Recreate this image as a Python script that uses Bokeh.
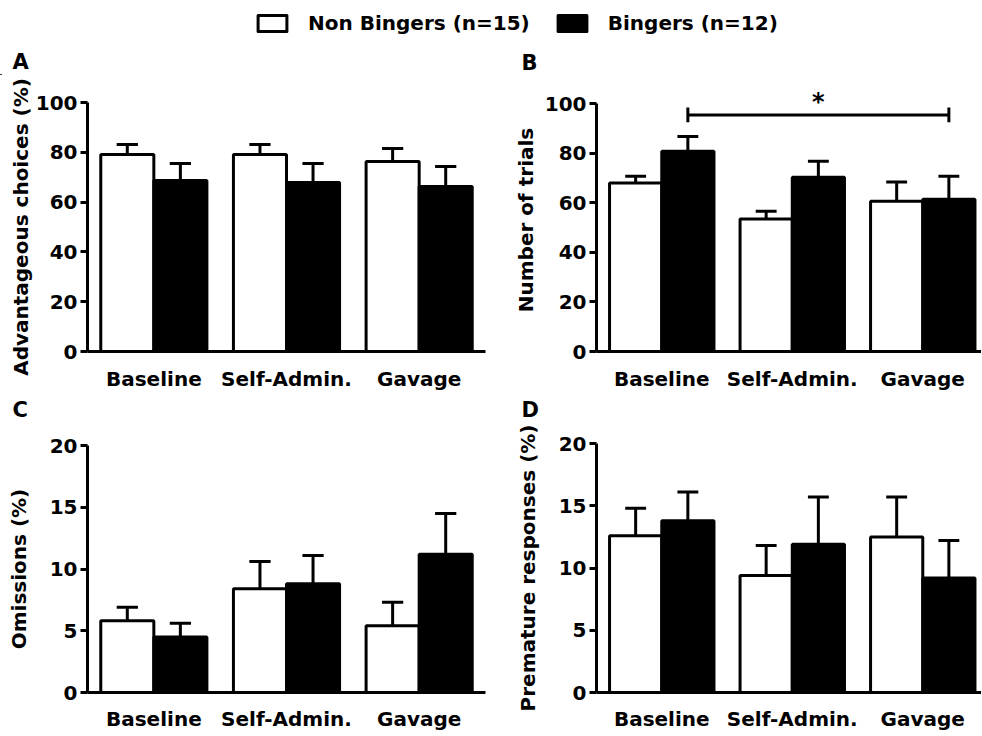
from bokeh.plotting import figure
from bokeh.models import ColumnDataSource, Range1d, FixedTicker, Label, Legend, LegendItem
from bokeh.layouts import column, row
from bokeh.embed import file_html
from bokeh.resources import INLINE

# ---------------- data ----------------
categories = ["Baseline", "Self-Admin.", "Gavage"]
series_names = ["Non Bingers (n=15)", "Bingers (n=12)"]
panel_letters = ["A", "B", "C", "D"]

adv_nb = [79.1, 79.1, 76.3]
adv_nb_sem = [4.0, 4.0, 5.2]
adv_b = [68.7, 67.9, 66.3]
adv_b_sem = [6.8, 7.6, 8.0]

trials_nb = [67.9, 53.4, 60.6]
trials_nb_sem = [2.8, 3.2, 7.7]
trials_b = [80.7, 70.3, 61.4]
trials_b_sem = [6.0, 6.4, 9.3]

omis_nb = [5.8, 8.4, 5.4]
omis_nb_sem = [1.1, 2.2, 1.9]
omis_b = [4.5, 8.8, 11.2]
omis_b_sem = [1.1, 2.3, 3.3]

prem_nb = [12.6, 9.4, 12.5]
prem_nb_sem = [2.2, 2.4, 3.2]
prem_b = [13.8, 11.9, 9.2]
prem_b_sem = [2.3, 3.8, 3.0]

y_ticks_ab = [0, 20, 40, 60, 80, 100]
y_ticks_cd = [0, 5, 10, 15, 20]

sig_from = "Baseline"
sig_to = "Gavage"
sig_y = 95.4
sig_cap = 3.0
sig_text = "*"
sig_text_y = 100.6

FONT = "DejaVu Sans"
BAR_W = 0.4
CAP_HW = 0.08


def no_align(p):
    try:
        p.frame_align = False
    except AttributeError:
        pass


def make_panel(ylabel, nb, nb_sem, b, b_sem, yticks, yend, xend,
               width, height, borders, label_standoff, x_standoff):
    ml, mr, mt, mb = borders
    p = figure(width=width, height=height, x_range=Range1d(0, xend),
               y_range=Range1d(0, yend), toolbar_location=None,
               output_backend="svg", min_border_left=ml, min_border_right=mr,
               min_border_top=mt, min_border_bottom=mb)
    no_align(p)
    p.outline_line_color = None
    p.xgrid.visible = False
    p.ygrid.visible = False

    centers = [i + 0.5 for i in range(len(categories))]
    x_nb = [c - BAR_W / 2 for c in centers]
    x_b = [c + BAR_W / 2 for c in centers]

    for xs, means, sems, fill in ((x_nb, nb, nb_sem, "white"), (x_b, b, b_sem, "black")):
        tops = [m + s for m, s in zip(means, sems)]
        src = ColumnDataSource(dict(x=xs, top=means, err=tops,
                                    cl=[x - CAP_HW for x in xs],
                                    cr=[x + CAP_HW for x in xs]))
        p.vbar(x="x", top="top", bottom=0, width=BAR_W, source=src,
               fill_color=fill, line_color="black", line_width=3)
        p.segment(x0="x", y0="top", x1="x", y1="err", source=src,
                  line_color="black", line_width=3)
        p.segment(x0="cl", y0="err", x1="cr", y1="err", source=src,
                  line_color="black", line_width=3)

    ya = p.yaxis[0]
    ya.ticker = FixedTicker(ticks=yticks)
    ya.bounds = (yticks[0], yticks[-1])
    ya.axis_label = ylabel
    ya.axis_label_standoff = label_standoff
    ya.major_label_standoff = 3
    ya.major_tick_out = 7
    ya.major_tick_in = 0
    ya.minor_tick_line_color = None

    xa = p.xaxis[0]
    xa.ticker = FixedTicker(ticks=centers)
    xa.major_label_overrides = {c: cat for c, cat in zip(centers, categories)}
    xa.major_tick_line_color = None
    xa.major_tick_out = 0
    xa.major_tick_in = 0
    xa.minor_tick_line_color = None
    xa.major_label_standoff = x_standoff

    for ax in (xa, ya):
        ax.axis_line_width = 3
        ax.axis_line_color = "black"
        ax.major_tick_line_width = 3
        ax.major_label_text_font = FONT
        ax.major_label_text_font_style = "bold"
        ax.major_label_text_font_size = "20px"
        ax.major_label_text_color = "black"
        ax.axis_label_text_font = FONT
        ax.axis_label_text_font_style = "bold"
        ax.axis_label_text_font_size = "20px"
        ax.axis_label_text_color = "black"
    return p


def strip(height):
    s = figure(width=981, height=height, x_range=Range1d(0, 1), y_range=Range1d(0, 1),
               x_axis_type=None, y_axis_type=None, toolbar_location=None,
               output_backend="svg", min_border=0)
    no_align(s)
    s.outline_line_color = None
    return s


def letter(s, text, x, y):
    s.add_layout(Label(x=x, y=y, x_units="screen", y_units="screen", text=text,
                       text_font=FONT, text_font_style="bold", text_font_size="21px",
                       text_color="black", text_baseline="middle"))


# panels: (ml, mr, mt, mb)
pA = make_panel("Advantageous choices (%)", adv_nb, adv_nb_sem, adv_b, adv_b_sem,
                y_ticks_ab, 100, 3.0, 491, 320, (87, 6, 27, 44), 0, 15)
pB = make_panel("Number of trials", trials_nb, trials_nb_sem, trials_b, trials_b_sem,
                y_ticks_ab, 100 * 263 / 248, 2.95, 490, 320, (105, 0, 13, 44), 4, 15)
pC = make_panel("Omissions (%)", omis_nb, omis_nb_sem, omis_b, omis_b_sem,
                y_ticks_cd, 20, 3.0, 491, 313, (87, 6, 23, 43), 16, 14)
pD = make_panel("Premature responses (%)", prem_nb, prem_nb_sem, prem_b, prem_b_sem,
                y_ticks_cd, 20, 2.95, 490, 313, (105, 0, 21, 43), 16, 14)

# significance bracket in panel B (between Bingers bars)
sx0 = categories.index(sig_from) + 0.5 + BAR_W / 2
sx1 = categories.index(sig_to) + 0.5 + BAR_W / 2
pB.segment(x0=[sx0, sx0, sx1], y0=[sig_y, sig_y - sig_cap, sig_y - sig_cap],
           x1=[sx1, sx0, sx1], y1=[sig_y, sig_y + sig_cap, sig_y + sig_cap],
           line_color="black", line_width=3)
pB.add_layout(Label(x=(sx0 + sx1) / 2, y=sig_text_y, text=sig_text, text_font=FONT,
                    text_font_style="bold", text_font_size="24px", text_color="black",
                    text_align="center", text_baseline="middle"))

# top strip: legend + letters A, B
top = strip(75)
fills = ["white", "black"]
items = []
for name, fill in zip(series_names, fills):
    r = top.vbar(x="x", top="top", bottom="bottom", width=0.4,
                 source=ColumnDataSource(dict(x=[-10.0], top=[-10.0], bottom=[-10.5])),
                 fill_color=fill, line_color="black", line_width=3, line_join="round")
    items.append(LegendItem(label=name, renderers=[r]))
legend = Legend(items=items, orientation="horizontal", location=(254, 40),
                glyph_width=36, glyph_height=20, label_standoff=18, spacing=24,
                padding=0, margin=0, border_line_color=None, background_fill_alpha=0,
                label_text_font=FONT, label_text_font_style="bold",
                label_text_font_size="20px", label_text_color="black")
top.add_layout(legend)
letter(top, panel_letters[0], 12, 14)
letter(top, panel_letters[1], 521, 12.5)

# middle strip: letters C, D
mid = strip(27)
letter(mid, panel_letters[2], 12, 13)
letter(mid, panel_letters[3], 521, 12.5)

layout = column(top, row(pA, pB), mid, row(pC, pD))

with open("out.html", "w") as f:
    f.write(file_html(layout, INLINE))
